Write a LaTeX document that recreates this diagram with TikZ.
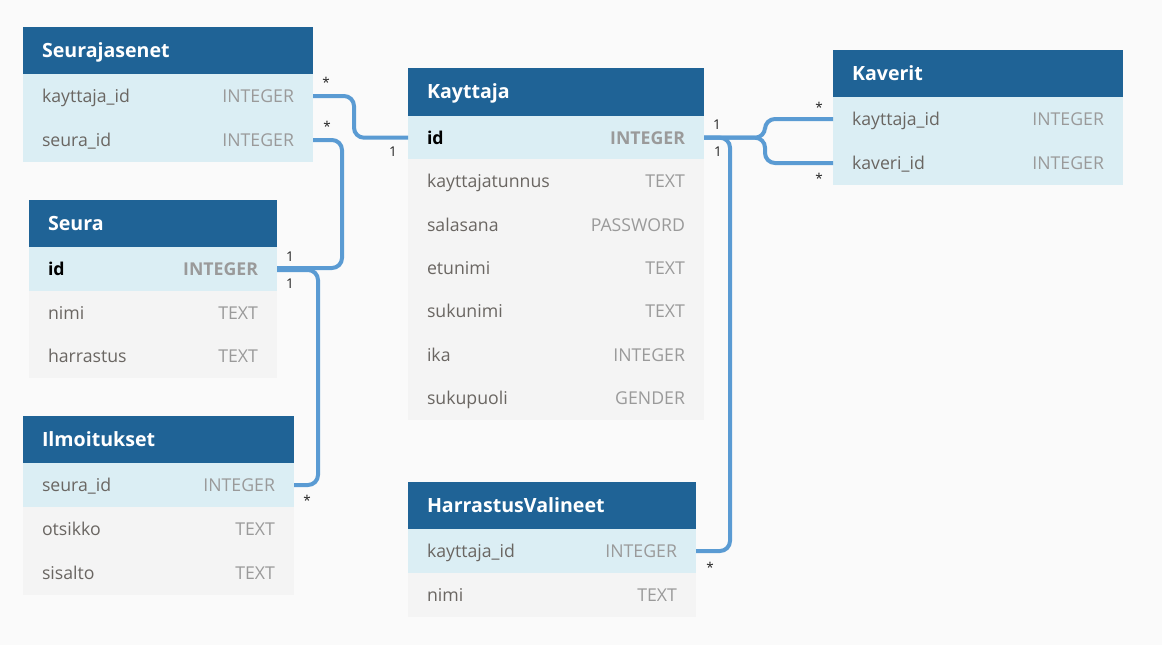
\documentclass[tikz,border=0pt]{standalone}
\usepackage{fontspec}
\setmainfont{Open Sans}
\usetikzlibrary{positioning,calc}
\definecolor{bg}{HTML}{FAFAFA}
\definecolor{hdrblue}{HTML}{1F6396}
\definecolor{keyrow}{HTML}{DBEEF4}
\definecolor{plainrow}{HTML}{F4F4F4}
\definecolor{fieldtxt}{HTML}{6A6662}
\definecolor{typetxt}{HTML}{9A9A9A}
\definecolor{lineblue}{HTML}{5A9BD3}
\definecolor{labtxt}{HTML}{222222}
\begin{document}
\begin{tikzpicture}[x=1pt,y=-1pt,
  hdr/.style={fill=hdrblue,text=white,font=\bfseries\fontsize{19.6}{20}\selectfont,
    minimum height=47,anchor=north west,text width=#1,inner xsep=19,inner ysep=0,outer sep=0,
    text height=15,text depth=1.5},
  keyr/.style={fill=keyrow,text=fieldtxt,font=\fontsize{17.7}{18}\selectfont,
    minimum height=44,text width=#1,inner xsep=19,inner ysep=0,outer sep=0,
    text height=14.5,text depth=1.5},
  plainr/.style={keyr=#1,fill=plainrow},
  conn/.style={draw=lineblue,line width=4,rounded corners=10},
  card/.style={text=labtxt,font=\fontsize{13.5}{14}\selectfont,inner sep=0}
]
\fill[bg] (0,0) rectangle (1162,645);
\useasboundingbox (0,0) rectangle (1162,645);

% Seurajasenet
\node[hdr=252] (ssn) at (23,27) {Seurajasenet};
\node[keyr=252,below=0pt of ssn] (ssn-kid) {kayttaja\_id\hfill\textcolor{typetxt}{INTEGER}};
\node[keyr=252,below=0pt of ssn-kid] (ssn-sid) {seura\_id\hfill\textcolor{typetxt}{INTEGER}};

% Seura
\node[hdr=210] (seu) at (29,200) {Seura};
\node[keyr=210,minimum height=44,below=0pt of seu] (seu-id) {\textbf{\textcolor{black}{id}}\hfill\textbf{\textcolor{typetxt}{INTEGER}}};
\node[plainr=210,minimum height=43.5,below=0pt of seu-id] (seu-nimi) {nimi\hfill\textcolor{typetxt}{TEXT}};
\node[plainr=210,minimum height=43.5,below=0pt of seu-nimi] (seu-harr) {harrastus\hfill\textcolor{typetxt}{TEXT}};

% Ilmoitukset
\node[hdr=233] (ilm) at (23,416) {Ilmoitukset};
\node[keyr=233,below=0pt of ilm] (ilm-sid) {seura\_id\hfill\textcolor{typetxt}{INTEGER}};
\node[plainr=233,below=0pt of ilm-sid] (ilm-ots) {otsikko\hfill\textcolor{typetxt}{TEXT}};
\node[plainr=233,below=0pt of ilm-ots] (ilm-sis) {sisalto\hfill\textcolor{typetxt}{TEXT}};

% Kayttaja
\node[hdr=258,minimum height=48] (kay) at (408,68) {Kayttaja};
\node[keyr=258,minimum height=43.4,below=0pt of kay] (kay-id) {\textbf{\textcolor{black}{id}}\hfill\textbf{\textcolor{typetxt}{INTEGER}}};
\node[plainr=258,minimum height=43.4,below=0pt of kay-id] (kay-tun) {kayttajatunnus\hfill\textcolor{typetxt}{TEXT}};
\node[plainr=258,minimum height=43.4,below=0pt of kay-tun] (kay-sal) {salasana\hfill\textcolor{typetxt}{PASSWORD}};
\node[plainr=258,minimum height=43.4,below=0pt of kay-sal] (kay-etu) {etunimi\hfill\textcolor{typetxt}{TEXT}};
\node[plainr=258,minimum height=43.4,below=0pt of kay-etu] (kay-suk) {sukunimi\hfill\textcolor{typetxt}{TEXT}};
\node[plainr=258,minimum height=43.4,below=0pt of kay-suk] (kay-ika) {ika\hfill\textcolor{typetxt}{INTEGER}};
\node[plainr=258,minimum height=43.4,below=0pt of kay-ika] (kay-sp) {sukupuoli\hfill\textcolor{typetxt}{GENDER}};

% HarrastusValineet
\node[hdr=250] (har) at (408,482) {HarrastusValineet};
\node[keyr=250,below=0pt of har] (har-kid) {kayttaja\_id\hfill\textcolor{typetxt}{INTEGER}};
\node[plainr=250,minimum height=43.5,below=0pt of har-kid] (har-nimi) {nimi\hfill\textcolor{typetxt}{TEXT}};

% Kaverit
\node[hdr=252] (kav) at (833,50) {Kaverit};
\node[keyr=252,below=0pt of kav] (kav-kid) {kayttaja\_id\hfill\textcolor{typetxt}{INTEGER}};
\node[keyr=252,below=0pt of kav-kid] (kav-vid) {kaveri\_id\hfill\textcolor{typetxt}{INTEGER}};

% connectors
\draw[conn] (ssn-kid.east) -- ++(41,0) |- (kay-id.west);
\draw[conn] (ssn-sid.east) -- ++(29,0) |- ($(seu-id.east)+(0,-1)$);
\draw[conn] ($(seu-id.east)+(0,1)$) -- ++(41,0) |- (ilm-sid.east);
\draw[conn] (kay-id.east) -- ++(61,0) |- (kav-kid.west);
\draw[conn] (kay-id.east) -- ++(61,0) |- (kav-vid.west);
\draw[conn] (kay-id.east) -- ++(26,0) |- (har-kid.east);

% cardinalities
\node[card] (c1) at (326,82) {*};
\node[card] (c2) at (393,152) {1};
\node[card] (c3) at (327,126) {*};
\node[card] (c4) at (290,257) {1};
\node[card] (c5) at (290,284) {1};
\node[card] (c6) at (307,500) {*};
\node[card] (c7) at (717,125) {1};
\node[card] (c8) at (718,152) {1};
\node[card] (c9) at (819,107) {*};
\node[card] (c10) at (819,178) {*};
\node[card] (c11) at (710,567) {*};
\end{tikzpicture}
\end{document}
